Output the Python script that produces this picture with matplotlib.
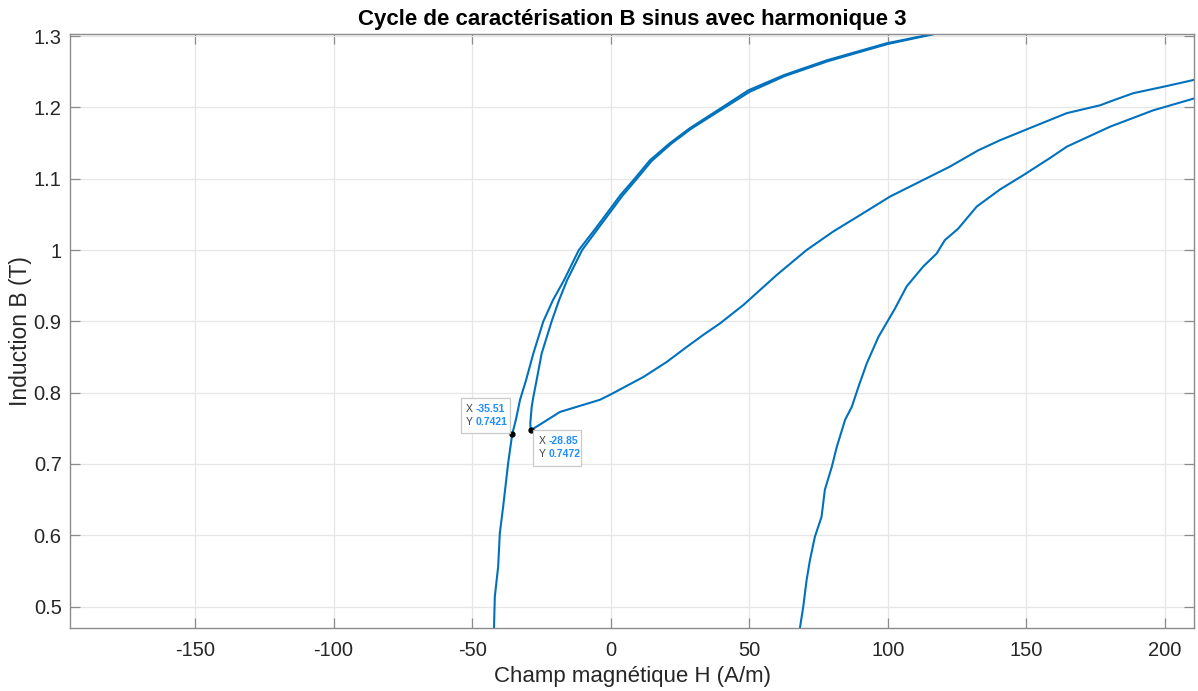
import matplotlib
matplotlib.use("Agg")
import matplotlib.pyplot as plt
from matplotlib.patches import Rectangle
from matplotlib.transforms import IdentityTransform

plt.rcParams['font.family'] = ['Liberation Sans', 'DejaVu Sans']

# Descending branch of the major loop (outer left curve)
h_desc = [120.0, 99.6, 77.9, 62.3, 49.7, 37.0, 28.6, 21.4, 14.2, 8.2, 3.5, -0.5, -5.5, -11.5,
          -16.8, -20.8, -24.3, -27.9, -30.5, -32.7, -34.2, -35.51, -37.0, -38.8, -40.0,
          -40.6, -41.8, -42.1]
b_desc = [1.306, 1.290, 1.266, 1.245, 1.224, 1.192, 1.171, 1.150, 1.126, 1.098, 1.077, 1.056, 1.030, 1.000,
          0.958, 0.930, 0.900, 0.855, 0.818, 0.790, 0.762, 0.7421, 0.701, 0.640, 0.603,
          0.556, 0.514, 0.470]

# Descending branch of the minor loop (inner left curve)
h_minor_desc = [120.5, 100.0, 78.5, 62.8, 50.2, 37.5, 29.0, 21.8, 14.8, 8.8, 4.2, 0.2, -4.6, -10.3,
                -15.7, -18.6, -21.3, -24.9, -26.7, -27.9, -28.5, -29.0, -28.85]
b_minor_desc = [1.306, 1.289, 1.265, 1.244, 1.222, 1.191, 1.170, 1.149, 1.125, 1.097, 1.076, 1.055, 1.030, 1.000,
                0.958, 0.930, 0.900, 0.855, 0.818, 0.794, 0.780, 0.757, 0.7472]

# Ascending branch of the minor loop
h_minor_asc = [-28.85, -18.3, -3.9, -0.25, 11.8, 20.2, 27.4, 33.4, 39.4, 47.9, 53.9, 59.9,
               70.7, 80.3, 90.0, 100.8, 111.6, 122.4, 132.7, 140.5, 152.5, 164.6, 176.6,
               181.4, 188.6, 200.6, 210.9]
b_minor_asc = [0.7472, 0.773, 0.790, 0.797, 0.822, 0.843, 0.864, 0.881, 0.897, 0.923, 0.944, 0.965,
               1.000, 1.026, 1.049, 1.075, 1.096, 1.117, 1.140, 1.154, 1.173, 1.192, 1.203,
               1.210, 1.220, 1.230, 1.239]

# Ascending branch of the major loop (right curve)
h_asc = [68.3, 69.5, 70.7, 71.9, 73.7, 76.1, 77.3, 79.8, 81.6, 84.6, 87.0, 89.4, 92.4,
         96.6, 100.2, 102.6, 106.8, 112.8, 117.6, 120.6, 125.4, 132.1, 140.5, 148.9,
         158.5, 164.6, 180.2, 195.8, 210.9]
b_asc = [0.470, 0.500, 0.537, 0.565, 0.598, 0.626, 0.664, 0.696, 0.724, 0.762, 0.780, 0.808, 0.841,
         0.878, 0.902, 0.918, 0.949, 0.977, 0.995, 1.014, 1.030, 1.061, 1.085, 1.105,
         1.129, 1.145, 1.173, 1.196, 1.213]

xticks = [-150, -100, -50, 0, 50, 100, 150, 200]
yticks = [0.5, 0.6, 0.7, 0.8, 0.9, 1.0, 1.1, 1.2, 1.3]
ytick_labels = ['0.5', '0.6', '0.7', '0.8', '0.9', '1', '1.1', '1.2', '1.3']

tips = [(-35.51, 0.7421), (-28.85, 0.7472)]

line_color = '#0072BD'
text_color = '#262626'
axis_color = '#8c8c8c'

fig = plt.figure(figsize=(11.98, 6.91), dpi=100)
ax = fig.add_axes([70/1198, 1-628/691, (1194-70)/1198, (628-34)/691])

for hx, by in [(h_desc, b_desc), (h_minor_desc, b_minor_desc),
               (h_minor_asc, b_minor_asc), (h_asc, b_asc)]:
    ax.plot(hx, by, color=line_color, linewidth=1.5, solid_joinstyle='round')

ax.set_xlim(-195.1, 210.5)
ax.set_ylim(0.470, 1.303)
ax.set_xticks(xticks)
ax.set_xticklabels([str(v) for v in xticks])
ax.set_yticks(yticks)
ax.set_yticklabels(ytick_labels)

ax.grid(True, color='#e6e6e6', linewidth=0.9)
ax.set_axisbelow(True)
ax.tick_params(direction='in', length=7, width=0.9, color=axis_color,
               labelsize=14.5, labelcolor=text_color, top=True, right=True)
ax.tick_params(axis='x', pad=9)
ax.tick_params(axis='y', pad=6)
for s in ax.spines.values():
    s.set_color(axis_color)
    s.set_linewidth(1.0)

ax.set_xlabel('Champ magnétique H (A/m)', fontsize=16, color=text_color, labelpad=5)
ax.set_ylabel('Induction B (T)', fontsize=16.5, color=text_color, labelpad=1)
ax.set_title('Cycle de caractérisation B sinus avec harmonique 3', fontsize=16,
             fontweight='bold', color='black', pad=6.5)

# Data tips
fig.canvas.draw()
tip_boxes = [(-51.6, 0.6, 49.3, 35.7), (2.7, -36.0, 47.3, 36.0)]
for (tx, ty), (bx, by, bw, bh) in zip(tips, tip_boxes):
    ax.plot([tx], [ty], 'o', color='black', markersize=3.5, zorder=5)
    px, py = ax.transData.transform((tx, ty))
    rect = Rectangle((px + bx, py + by), bw, bh, transform=IdentityTransform(),
                     facecolor='white', edgecolor='#c8c8c8', linewidth=0.9, alpha=0.95, zorder=6)
    fig.add_artist(rect)
    x0 = px + bx + 5
    for i, (lab, val) in enumerate([('X', f'{tx:.2f}'), ('Y', f'{ty:.4f}')]):
        yy = py + by + bh - 11 - i * 13
        fig.text(x0, yy, lab, transform=IdentityTransform(), fontsize=7.5,
                 color='#404040', va='center', ha='left', zorder=7)
        fig.text(x0 + 10, yy, val, transform=IdentityTransform(), fontsize=7.5,
                 color='#1f8fff', fontweight='bold', va='center', ha='left', zorder=7)

fig.savefig('out.png', dpi=100)
